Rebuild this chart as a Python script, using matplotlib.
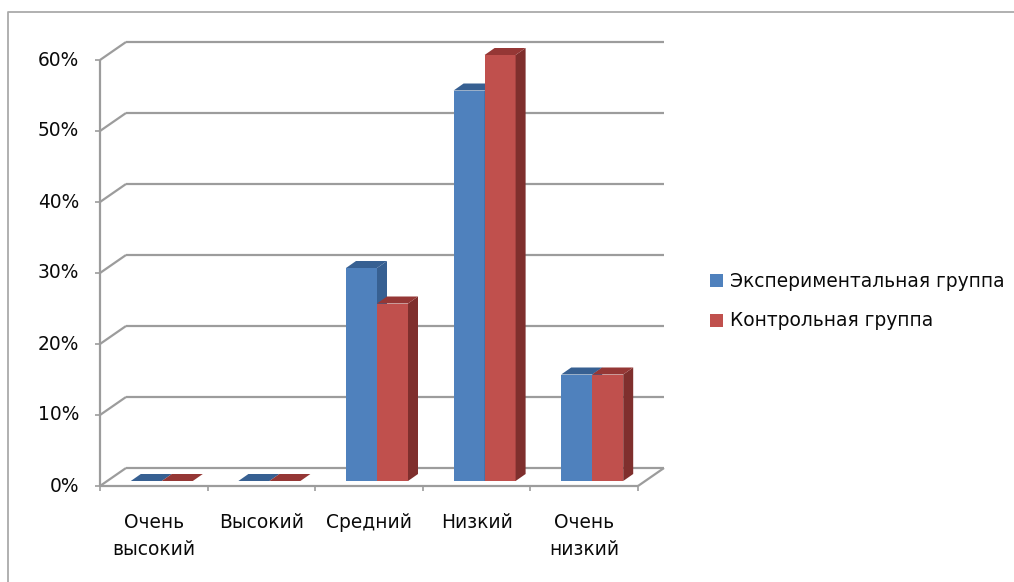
import matplotlib
matplotlib.use('Agg')
import matplotlib.pyplot as plt
from matplotlib.patches import Polygon, Rectangle

categories = ['Очень\nвысокий', 'Высокий', 'Средний', 'Низкий', 'Очень\nнизкий']
experimental = [0, 0, 30, 55, 15]
control = [0, 0, 25, 60, 15]
series_names = ['Экспериментальная группа', 'Контрольная группа']
y_ticks = [0, 10, 20, 30, 40, 50, 60]
y_labels = ['0%', '10%', '20%', '30%', '40%', '50%', '60%']

W, H = 1014, 582
BLUE, BLUE_TOP = '#4f81bd', '#376092'
RED, RED_TOP, RED_SIDE = '#c0504d', '#953735', '#7f2f2d'
GRID = '#9c9c9c'
TEXT = '#0a0a0a'
FONT_SIZE = 13.4

fig = plt.figure(figsize=(W / 100, H / 100), dpi=100)
plt.rcParams['font.family'] = ['DejaVu Sans']

# plot box in pixels: front floor edge and the 60% level
ax = fig.add_axes([100 / W, 1 - 486 / H, 538 / W, 426 / H])
ax.set_xlim(0, 5)
ax.set_ylim(0, 60)
ax.axis('off')

# depth offsets of the 3D box, in data units
px_x = 5 / 538
px_y = 60 / 426
wall_dx, wall_dy = 26 * px_x, 18 * px_y
bar_dx, bar_dy = 10 * px_x, 7 * px_y
gap_dx, gap_dy = 8 * px_x, 5 * px_y
bar_w = 31 * px_x


def line(xs, ys, lw=1.6, z=1):
    ax.plot(xs, ys, color=GRID, lw=lw, clip_on=False, zorder=z, solid_capstyle='butt')


# back wall gridlines and their slant along the side wall
for t in y_ticks:
    line([wall_dx, 5 + wall_dx], [t + wall_dy, t + wall_dy])
    line([0, wall_dx], [t, t + wall_dy])
    line([-5 * px_x, 0], [t, t], lw=1.2)
    ax.text(-21 * px_x, t, y_labels[t // 10], ha='right', va='center', fontsize=FONT_SIZE,
            color=TEXT, clip_on=False)

# axes and the floor edges
line([0, 0], [0, 60])
line([0, 5], [0, 0])
line([5, 5 + wall_dx], [0, wall_dy])
for i in range(6):
    line([i, i], [0, -5 * px_y], lw=1.2)


def bar(left, value, front, top, side, z):
    x0 = left + gap_dx
    y0 = gap_dy
    y1 = y0 + value
    if value > 0:
        ax.add_patch(Rectangle((x0, y0), bar_w, value, fc=front, ec='none', zorder=z, clip_on=False))
        ax.add_patch(Polygon([(x0 + bar_w, y0), (x0 + bar_w + bar_dx, y0 + bar_dy),
                              (x0 + bar_w + bar_dx, y1 + bar_dy), (x0 + bar_w, y1)],
                             fc=side, ec='none', zorder=z, clip_on=False))
    ax.add_patch(Polygon([(x0, y1), (x0 + bar_w, y1), (x0 + bar_w + bar_dx, y1 + bar_dy),
                          (x0 + bar_dx, y1 + bar_dy)], fc=top, ec='none', zorder=z, clip_on=False))


for i, name in enumerate(categories):
    centre = i + 0.5
    bar(centre - bar_w, experimental[i], BLUE, BLUE_TOP, BLUE_TOP, 3 + i)
    bar(centre, control[i], RED, RED_TOP, RED_SIDE, 3.5 + i)
    ax.text(centre, -3.85, name, ha='center', va='top', fontsize=FONT_SIZE, color=TEXT,
            linespacing=1.5, clip_on=False)

# legend
for name, colour, y in zip(series_names, [BLUE, RED], [281, 321]):
    fig.add_artist(Rectangle((710 / W, 1 - (y + 6) / H), 13 / W, 13 / H, fc=colour, ec='none',
                             transform=fig.transFigure))
    fig.text(730 / W, 1 - y / H, name, ha='left', va='center', fontsize=FONT_SIZE, color=TEXT)

# outer chart frame
fig.add_artist(plt.Line2D([8 / W, 8 / W, 1], [0, 1 - 12 / H, 1 - 12 / H], color='#aaaaaa', lw=1.3))

fig.savefig('out.png', dpi=100)
